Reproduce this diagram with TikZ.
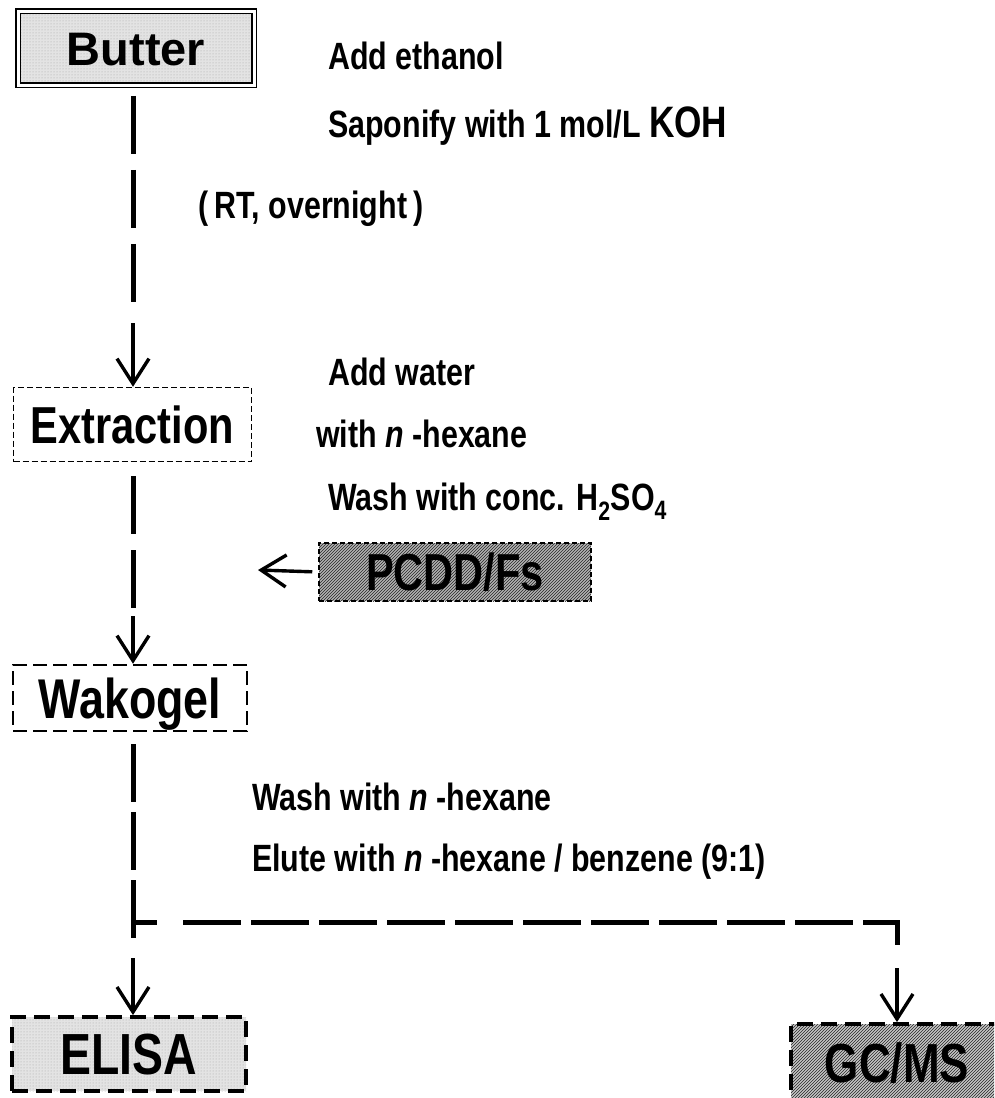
\documentclass[tikz,border=0pt]{standalone}
\usepackage{fontspec}
\setmainfont{Liberation Sans}[FakeStretch=0.8]
\newfontfamily\widesf{Liberation Sans}
\usetikzlibrary{patterns,arrows.meta}

\newcommand{\fsz}[1]{\fontsize{#1}{#1}\selectfont\bfseries}

\begin{document}
\begin{tikzpicture}[x=1pt,y=-1pt,
  spine/.style={line width=5pt,dash pattern=on 58pt off 16pt},
  flowarrow/.style={line width=3.4pt,-{Straight Barb[length=25pt,width=32pt,line width=3.4pt]}},
  note/.style={anchor=base west,inner sep=0pt,font=\fsz{38}},
  stepbox/.style={shape=rectangle,draw,inner sep=0pt,text depth=0pt},
  dotbox/.style={stepbox,preaction={fill=gray!22},pattern=dots,pattern color=gray!70},
  hatchbox/.style={stepbox,preaction={fill=gray!#1},pattern=north east lines,pattern color=black!85}]
\clip (0,0) rectangle (994,1098);
\fill[white] (0,0) rectangle (994,1098);
% boxes
\node[dotbox,double,line width=1.6pt,double distance=3pt,minimum width=236pt,minimum height=74pt,text height=34pt,font=\widesf\fsz{47}] (butter) at (136,48) {Butter};
\node[stepbox,line width=1.5pt,dash pattern=on 6pt off 3pt,minimum width=238pt,minimum height=74pt,text height=37pt,font=\fsz{52}] (extraction) at (132.5,424.5) {Extraction};
\node[hatchbox=60,line width=1.5pt,dash pattern=on 5pt off 3pt,minimum width=272pt,minimum height=58pt,text height=37pt,font=\fsz{52}] (pcdd) at (455,572) {PCDD/Fs};
\node[stepbox,line width=2.5pt,dash pattern=on 14pt off 6pt,minimum width=234pt,minimum height=66pt,text height=40pt,font=\fsz{56}] (wakogel) at (130,698) {Wakogel};
\node[dotbox,line width=3.8pt,dash pattern=on 16pt off 8pt,minimum width=234pt,minimum height=74pt,text height=41pt,font=\fsz{58}] (elisa) at (129,1054) {ELISA};
\node[hatchbox=45,line width=3.8pt,dash pattern=on 16pt off 8pt,minimum width=212pt,minimum height=78pt,text height=39pt,font=\fsz{55}] (gcms) at (897,1063) {GC/MS};
% step notes
\node[note] (ethanol) at (328,69) {Add ethanol};
\node[note] (sapon) at (328,137) {Saponify with 1 mol/L {\fsz{44}KOH}};
\node[note] (rtover) at (198,218) {(\,RT, overnight\,)};
\node[note] (water) at (328,385) {Add water};
\node[note] (hexane) at (316,447) {with \textit{n} -hexane};
\node[note] (acid) at (328,510) {Wash with conc. H\textsubscript{2}SO\textsubscript{4}};
\node[note] (rinse) at (252,810) {Wash with \textit{n} -hexane};
\node[note] (elute) at (252,871) {Elute with \textit{n} -hexane / benzene (9:1)};
% flow
\coordinate (col) at (133,0);
\coordinate (e1) at (133,307);
\coordinate (s1) at (133,323);
\coordinate (e2) at (133,608);
\coordinate (s2) at (133,616);
\coordinate (e3) at (133,945);
\coordinate (s3) at (133,958);
\coordinate (split) at (133,922);
\coordinate (corner) at (897,922);
\coordinate (e4) at (897,945);
\coordinate (s4) at (897,968);
\coordinate (pin) at (258,570);
\draw[spine] ([yshift=-10pt]butter.south -| col) -- (e1);
\draw[flowarrow] (s1) -- (extraction.north -| col);
\draw[spine] ([yshift=-14pt]extraction.south -| col) -- (e2);
\draw[flowarrow] (s2) -- (wakogel.north -| col);
\draw[spine,dash pattern=on 58pt off 10pt] ([yshift=-12pt]wakogel.south -| col) -- (e3);
\draw[flowarrow] (s3) -- (elisa.north -| col);
\draw[line width=5pt] (split) -- +(24,0);
\draw[spine,dash pattern=on 58pt off 10pt] ([xshift=50pt]split) -- (corner) -- (e4);
\draw[flowarrow] (s4) -- (gcms.north);
\draw[flowarrow,shorten <=6pt] (pcdd.west) -- (pin);
\end{tikzpicture}
\end{document}
